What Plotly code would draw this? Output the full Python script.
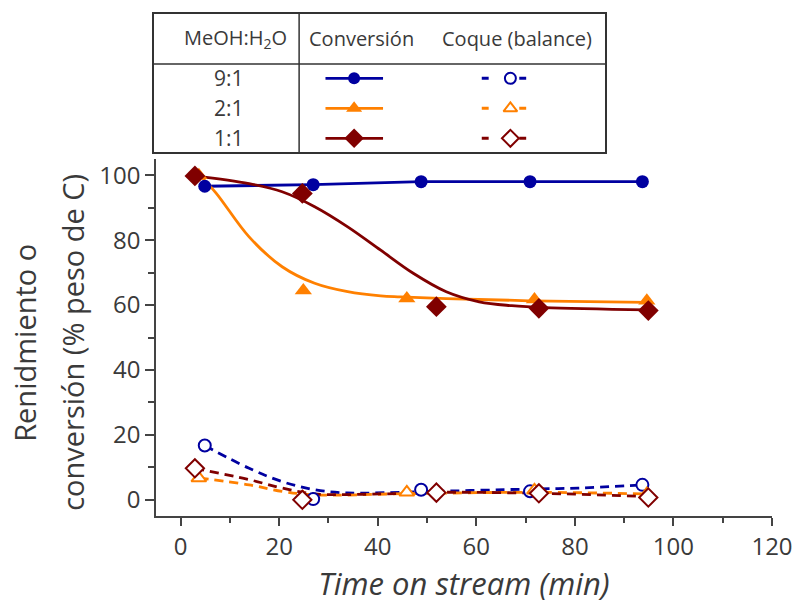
import plotly.graph_objects as go

# ---------------- data ----------------
t_91 = [4.9, 26.9, 48.8, 70.9, 93.7]
t_21 = [3.7, 24.9, 45.9, 71.8, 94.6]
t_11 = [2.9, 24.7, 51.9, 72.7, 94.9]

conv_91 = [96.6, 97.1, 98.0, 98.0, 98.0]
conv_21 = [100.0, 64.5, 62.0, 61.7, 61.3]
conv_11 = [99.8, 94.4, 59.5, 59.0, 58.3]

coke_91 = [16.7, 0.2, 3.1, 2.6, 4.6]
coke_21 = [6.7, 0.6, 2.3, 2.9, 1.7]
coke_11 = [9.7, 0.0, 2.2, 2.0, 0.7]

# fitted trend curves
fit_21_t = [4.2, 7.2, 13.9, 20.6, 27.2, 33.9, 40.6, 44.6, 53.9, 71.2, 94.5]
fit_21 = [99.5, 94.5, 81.0, 71.8, 66.7, 64.1, 62.8, 62.5, 62.0, 61.3, 60.8]
fit_11_t = [2.9, 13.9, 20.6, 27.2, 33.9, 40.6, 47.2, 53.9, 60.6, 67.2, 73.9, 94.9]
fit_11 = [99.8, 97.4, 94.9, 90.3, 84.1, 76.9, 69.8, 64.1, 61.0, 59.8, 59.2, 58.5]

cfit_91_t = [4.9, 13.9, 20.6, 27.2, 33.9, 48.9, 70.9, 80.6, 93.7]
cfit_91 = [16.7, 9.7, 5.6, 3.1, 2.1, 2.5, 3.3, 3.6, 4.6]
cfit_21_t = [3.8, 13.9, 20.6, 27.2, 45.9, 71.8, 94.6]
cfit_21 = [6.7, 4.6, 2.6, 1.5, 1.9, 2.3, 1.8]
cfit_11_t = [2.9, 13.9, 20.6, 27.2, 40.6, 51.9, 72.7, 94.9]
cfit_11 = [9.7, 6.2, 3.6, 1.8, 1.8, 2.3, 2.0, 1.0]

ratios = ["9:1", "2:1", "1:1"]
header = ["MeOH:H<sub>2</sub>O", "Conversión", "Coque (balance)"]

BLUE = "#0000A0"
ORANGE = "#FF8000"
RED = "#800000"
TXT = "#3a3a3a"
AX = "#444444"
FONT = "Open Sans"

fig = go.Figure()

# ---- trend lines ----
def line(x, y, color, dash="solid"):
    fig.add_trace(go.Scatter(x=x, y=y, mode="lines", line=dict(color=color, width=2.8, dash=dash, shape="spline", smoothing=1.0),
                             hoverinfo="skip", showlegend=False))

dash = "9px,6px"
line(cfit_91_t, cfit_91, BLUE, dash)
line(cfit_21_t, cfit_21, ORANGE, dash)
line(cfit_11_t, cfit_11, RED, dash)
fig.add_trace(go.Scatter(x=t_91, y=conv_91, mode="lines", line=dict(color=BLUE, width=2.8),
                         hoverinfo="skip", showlegend=False))
line(fit_21_t, fit_21, ORANGE)
line(fit_11_t, fit_11, RED)

# ---- markers ----
def marks(x, y, color, sym, size, filled=True):
    if filled:
        m = dict(symbol=sym, size=size, color=color, line=dict(width=0))
    else:
        m = dict(symbol=sym, size=size, color="white", line=dict(width=2, color=color))
    fig.add_trace(go.Scatter(x=x, y=y, mode="markers", marker=m, showlegend=False))

marks(t_91, coke_91, BLUE, "circle", 12, False)
marks(t_21, coke_21, ORANGE, "triangle-up", 13, False)
marks(t_11, coke_11, RED, "diamond", 14, False)
marks(t_91, conv_91, BLUE, "circle", 13)
marks(t_21, conv_21, ORANGE, "triangle-up", 15)
marks(t_11, conv_11, RED, "diamond", 16)

# ---- legend table (own axes x3/y3, units = pixels inside the table) ----
row_y = [64.3, 94.3, 124.3]
colors = [BLUE, ORANGE, RED]
syms = ["circle", "triangle-up", "diamond"]
sizes_f = [12, 14, 15]
sizes_o = [11, 12, 13]
for ry, c, s, sf, so in zip(row_y, colors, syms, sizes_f, sizes_o):
    fig.add_trace(go.Scatter(x=[173.7, 232.0], y=[ry, ry], mode="lines", line=dict(color=c, width=2.8),
                             xaxis="x3", yaxis="y3", hoverinfo="skip", showlegend=False))
    fig.add_trace(go.Scatter(x=[202.7], y=[ry], mode="markers", marker=dict(symbol=s, size=sf, color=c),
                             xaxis="x3", yaxis="y3", hoverinfo="skip", showlegend=False))
    fig.add_trace(go.Scatter(x=[332, 339, None, 370, 377], y=[ry, ry, None, ry, ry], mode="lines",
                             line=dict(color=c, width=3), xaxis="x3", yaxis="y3", hoverinfo="skip", showlegend=False))
    fig.add_trace(go.Scatter(x=[361], y=[ry], mode="markers",
                             marker=dict(symbol=s, size=so, color="white", line=dict(width=2, color=c)),
                             xaxis="x3", yaxis="y3", hoverinfo="skip", showlegend=False))

annotations = []
for txt, hx in zip(header, [82.7, 210.0, 367.7]):
    annotations.append(dict(text=txt, x=hx, y=24.3, xref="x3", yref="y3", showarrow=False,
                            font=dict(family=FONT, size=20, color=TXT), xanchor="center", yanchor="middle"))
for txt, ry in zip(ratios, row_y):
    annotations.append(dict(text=txt, x=76, y=ry, xref="x3", yref="y3", showarrow=False,
                            font=dict(family=FONT, size=21, color=TXT), xanchor="center", yanchor="middle"))

shapes = [
    dict(type="line", xref="x3", yref="y3", x0=147, x1=147, y0=0, y1=138, line=dict(color="#333", width=1.5)),
    dict(type="line", xref="x3", yref="y3", x0=0, x1=457, y0=50, y1=50, line=dict(color="#333", width=1.5)),
]

# y-axis title (two lines)
annotations.append(dict(text="Renidmiento o", xref="paper", yref="paper", x=0, y=0.345, xshift=-129,
                        textangle=-90, showarrow=False, xanchor="center", yanchor="middle",
                        font=dict(family=FONT, size=29, color=TXT)))
annotations.append(dict(text="conversión (% peso de C)", xref="paper", yref="paper", x=0, y=0.345, xshift=-81,
                        textangle=-90, showarrow=False, xanchor="center", yanchor="middle",
                        font=dict(family=FONT, size=29, color=TXT)))

W, H = 805, 604
L, R, T, B = 154, 25, 14, 88
pw, ph = W - L - R, H - T - B
main_x0 = (156 - L) / pw
main_y1 = (516 - 159) / ph
tab_x1 = (611 - L) / pw
tab_y0 = (516 - 152) / ph

fig.update_layout(
    width=W, height=H,
    margin=dict(l=L, r=R, t=T, b=B),
    paper_bgcolor="white", plot_bgcolor="white",
    showlegend=False,
    annotations=annotations,
    shapes=shapes,
    font=dict(family=FONT, color=TXT),
    xaxis=dict(domain=[main_x0, 1], range=[-5, 120], tick0=0, dtick=20, ticks="outside", ticklen=8, tickwidth=1.5,
               tickcolor=AX, showline=True, linecolor=AX, linewidth=1.5, showgrid=False, zeroline=False,
               minor=dict(dtick=10, ticks="outside", ticklen=5, tickwidth=1.5, tickcolor=AX),
               tickfont=dict(family=FONT, size=24, color=TXT), anchor="y",
               title=dict(text="<i>Time on stream (min)</i>", font=dict(family=FONT, size=31, color=TXT), standoff=8)),
    yaxis=dict(domain=[0, main_y1], range=[-5, 105], tick0=0, dtick=20, ticks="outside", ticklen=9, tickwidth=1.5,
               tickcolor=AX, showline=True, linecolor=AX, linewidth=1.5, showgrid=False, zeroline=False,
               minor=dict(dtick=10, ticks="outside", ticklen=6, tickwidth=1.5, tickcolor=AX),
               tickfont=dict(family=FONT, size=24, color=TXT), anchor="x"),
    xaxis2=dict(overlaying="x", side="top", anchor="y", range=[-5, 120], tick0=0, dtick=10, ticks="inside",
                ticklen=5, tickwidth=1.5, tickcolor=AX, showline=True, linecolor=AX, linewidth=1.5,
                showticklabels=False, showgrid=False, zeroline=False),
    yaxis2=dict(overlaying="y", side="right", anchor="x", range=[-5, 105], tick0=0, dtick=10, ticks="inside",
                ticklen=8, tickwidth=1.5, tickcolor=AX, showline=True, linecolor=AX, linewidth=1.5,
                showticklabels=False, showgrid=False, zeroline=False),
    xaxis3=dict(domain=[0, tab_x1], anchor="y3", range=[0, 457], showline=True, mirror=True, linecolor="#333",
                linewidth=1.5, showticklabels=False, ticks="", showgrid=False, zeroline=False),
    yaxis3=dict(domain=[tab_y0, 1], anchor="x3", range=[138, 0], showline=True, mirror=True, linecolor="#333",
                linewidth=1.5, showticklabels=False, ticks="", showgrid=False, zeroline=False),
)

fig.write_html("out.html")
